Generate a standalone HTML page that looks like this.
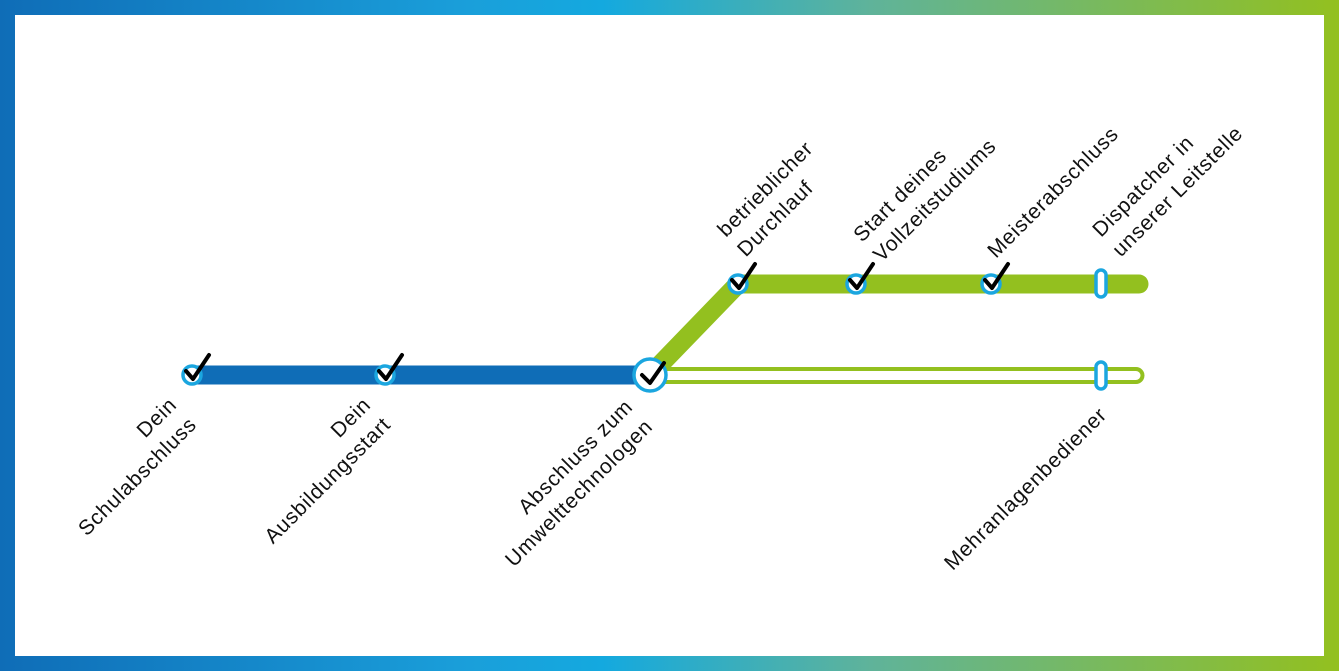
<!DOCTYPE html>
<html><head><style>
html,body{margin:0;padding:0;}
body{width:1339px;height:671px;overflow:hidden;background:linear-gradient(90deg,#0f6db7 0%,#1a9fda 35%,#14a9df 45%,#5fb39a 65%,#93c01f 100%);position:relative;}
.inner{position:absolute;left:15px;top:15px;width:1309px;height:641px;background:#fff;}
svg{position:absolute;left:0;top:0;}
text{font-family:"Liberation Sans",sans-serif;font-size:21px;letter-spacing:0.8px;fill:#111;}
</style></head><body>
<div class="inner"></div>
<svg width="1339" height="671" viewBox="0 0 1339 671">
<path d="M660 369 H1136 A6.5 6.5 0 0 1 1136 382 H660" fill="none" stroke="#93c01f" stroke-width="4"/>
<line x1="192" y1="375" x2="645" y2="375" stroke="#0f6db7" stroke-width="19"/>
<polyline points="650,375 738,284 1138,284" fill="none" stroke="#93c01f" stroke-width="19" stroke-linejoin="miter"/>
<line x1="1138" y1="284" x2="1139" y2="284" stroke="#93c01f" stroke-width="19" stroke-linecap="round"/>
<g fill="#fff" stroke="#1ba6df" stroke-width="3.5">
<circle cx="192" cy="375" r="9"/>
<circle cx="385" cy="375" r="9"/>
<circle cx="738" cy="284" r="9"/>
<circle cx="856" cy="284" r="9"/>
<circle cx="991" cy="284" r="9"/>
<circle cx="650" cy="375" r="16"/>
<rect x="1096" y="270" width="10" height="27" rx="5"/>
<rect x="1096" y="362" width="10" height="27" rx="5"/>
</g>
<g fill="none" stroke="#000" stroke-width="4" stroke-linecap="round" stroke-linejoin="round">
<path d="M186 371 l7 8 l16 -24"/>
<path d="M379 371 l7 8 l16 -24"/>
<path d="M732 280 l7 8 l16 -24"/>
<path d="M850 280 l7 8 l16 -24"/>
<path d="M985 280 l7 8 l16 -24"/>
<path d="M642 375 l8 8 l14 -20"/>
</g>
<g text-anchor="end">
<g transform="translate(178,406) rotate(-45)"><text x="0" y="0">Dein</text><text x="0" y="28">Schulabschluss</text></g>
<g transform="translate(372,406) rotate(-45)"><text x="0" y="0">Dein</text><text x="0" y="28">Ausbildungsstart</text></g>
<g transform="translate(634,408) rotate(-45)"><text x="0" y="0">Abschluss zum</text><text x="0" y="28">Umwelttechnologen</text></g>
<g transform="translate(1108,416) rotate(-45)"><text x="0" y="0">Mehranlagenbediener</text></g>
</g>
<g>
<g transform="translate(726,238) rotate(-45)"><text x="0" y="0">betrieblicher</text><text x="0" y="28">Durchlauf</text></g>
<g transform="translate(862,243) rotate(-45)"><text x="0" y="0">Start deines</text><text x="0" y="28">Vollzeitstudiums</text></g>
<g transform="translate(996,259) rotate(-45)"><text x="0" y="0">Meisterabschluss</text></g>
<g transform="translate(1101,238) rotate(-45)"><text x="0" y="0">Dispatcher in</text><text x="0" y="28">unserer Leitstelle</text></g>
</g>
</svg>
</body></html>
